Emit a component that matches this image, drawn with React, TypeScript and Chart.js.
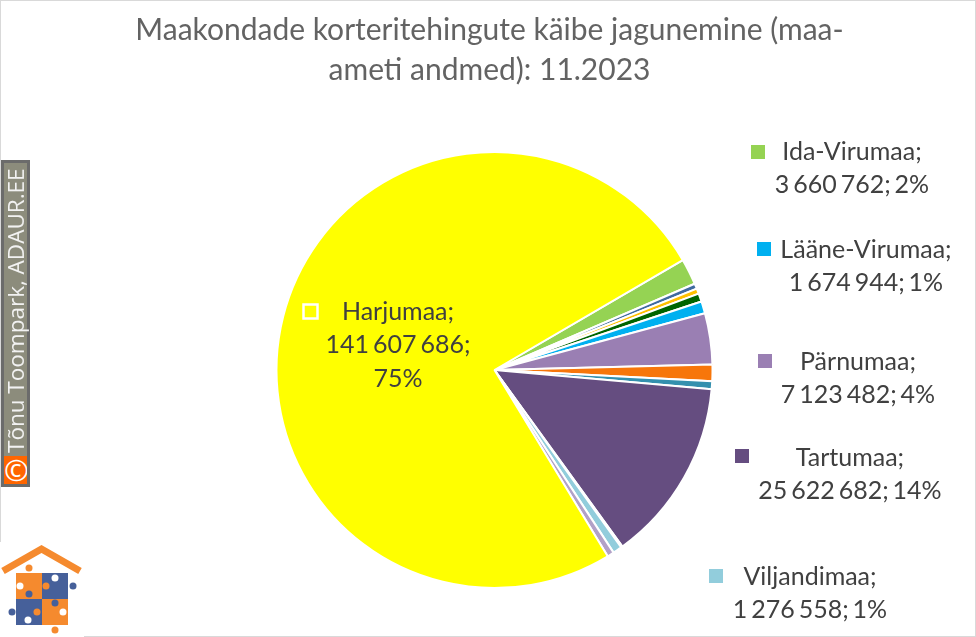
import React, { useEffect, useRef } from 'react';
import { Chart, registerables } from 'chart.js';

Chart.register(...registerables);

const titleLines = ['Maakondade korteritehingute käibe jagunemine (maa-', 'ameti andmed): 11.2023'];

// clockwise from Ida-Virumaa; the unnamed ones have no label in the picture
const counties = ['Ida-Virumaa', 'Hiiumaa', 'Jõgevamaa', 'Järvamaa', 'Lääne-Virumaa', 'Pärnumaa', 'Raplamaa', 'Saaremaa', 'Tartumaa', 'Valgamaa', 'Viljandimaa', 'Võrumaa', 'Harjumaa'];
const turnover = [3660762, 730000, 730000, 1150000, 1674944, 7123482, 2300000, 1100000, 25622682, 200000, 1276558, 950000, 141607686];
const sliceColors = ['#95D353', '#3F6AA0', '#FFC000', '#006400', '#00B0F0', '#9A7FB3', '#F7760A', '#3490AE', '#654D80', '#F8CBAD', '#92CDDC', '#B2A1C7', '#FFFF00'];

const FONT = 'Lato, sans-serif';

// where the data labels sit: [county index, swatch x, swatch y, text centre x, first line y]
const labelSpots = [
  [0, 758, 152, 852, 152],
  [4, 764, 249, 866, 250],
  [5, 765, 361, 858, 362],
  [8, 742, 456, 850, 458],
  [10, 716, 576, 810, 577],
  [12, 310.5, 311.5, 398, 312],
];

const formatValue = (v: number) => String(v).replace(/\B(?=(\d{3})+$)/g, ' ');

const sliceLabels = {
  id: 'sliceLabels',
  afterLayout(chart: any) {
    // title sits a bit left of the pie centre
    chart.titleBlock.right -= 10;
  },
  afterDraw(chart: any) {
    const { ctx } = chart;
    const total = turnover.reduce((a, b) => a + b, 0);
    ctx.save();
    ctx.font = `25px ${FONT}`;
    ctx.wordSpacing = '-2.5px';
    ctx.textAlign = 'center';
    ctx.textBaseline = 'middle';
    labelSpots.forEach(([i, sx, sy, tx, ty]) => {
      const pct = `${Math.round((turnover[i] / total) * 100)}%`;
      const num = formatValue(turnover[i]);
      // Harjumaa is the only one broken over three lines
      const lines = i === 12 ? [`${counties[i]};`, `${num};`, pct] : [`${counties[i]};`, `${num}; ${pct}`];
      if (i === 12) {
        ctx.strokeStyle = '#FFFFFF';
        ctx.lineWidth = 2.5;
        ctx.strokeRect(sx - 7, sy - 7, 14, 14);
      } else {
        ctx.fillStyle = sliceColors[i];
        ctx.fillRect(sx - 7, sy - 7, 14, 14);
      }
      ctx.fillStyle = '#404040';
      lines.forEach((line, n) => ctx.fillText(line, tx, ty + n * 33.3));
    });
    ctx.restore();
  },
};

const Logo = () => (
  <svg width={84} height={95} viewBox="0 12 84 95" style={{ position: 'absolute', left: -1, top: 541 }}>
    <rect x={0} y={12} width={84} height={95} fill="#FFFFFF" />
    <polyline points="3,41 41.5,19 80,41" fill="none" stroke="#F58A2E" strokeWidth={7} />
    <rect x={16} y={43} width={26} height={26} fill="#F58A2E" />
    <rect x={42} y={43} width={26} height={26} fill="#46609A" />
    <rect x={16} y={69} width={26} height={26} fill="#46609A" />
    <rect x={42} y={69} width={26} height={26} fill="#F58A2E" />
    <circle cx={29} cy={38} r={3.5} fill="#F58A2E" />
    <circle cx={73} cy={56} r={3.5} fill="#46609A" />
    <circle cx={12} cy={82} r={3.5} fill="#46609A" />
    <circle cx={55} cy={100} r={3.5} fill="#F58A2E" />
    <circle cx={29} cy={64} r={3.5} fill="#46609A" />
    <circle cx={55} cy={73} r={3.5} fill="#46609A" />
    <circle cx={46} cy={56} r={3.5} fill="#F58A2E" />
    <circle cx={37} cy={82} r={3.5} fill="#F58A2E" />
    <circle cx={55} cy={48} r={3.5} fill="#FFFFFF" />
    <circle cx={20} cy={56} r={3.5} fill="#FFFFFF" />
    <circle cx={63} cy={82} r={3.5} fill="#FFFFFF" />
    <circle cx={28} cy={90} r={3.5} fill="#FFFFFF" />
  </svg>
);

const Badge = () => (
  <div style={{ position: 'absolute', left: 0, top: 159, width: 29, height: 327, boxSizing: 'border-box', border: '3px solid #6B6B6B', background: '#8C8C7C' }}>
    <div
      style={{
        position: 'absolute', left: 0, bottom: 0, width: 23, height: 28,
        background: '#FF6600', color: '#FFFFFF', fontFamily: 'Open Sans, sans-serif', fontSize: 30,
        lineHeight: '28px', textAlign: 'center', overflow: 'hidden',
      }}
    >
      ©
    </div>
    <div
      style={{
        position: 'absolute', left: 0, bottom: 31, width: 23, height: 292,
        writingMode: 'vertical-rl', transform: 'rotate(180deg)', color: '#F2F2F2',
        fontFamily: 'Open Sans, sans-serif', fontSize: 22.5, lineHeight: '23px', whiteSpace: 'nowrap',
      }}
    >
      Tõnu Toompark, ADAUR.EE
    </div>
  </div>
);

const App: React.FC = () => {
  const canvasRef = useRef<HTMLCanvasElement | null>(null);

  useEffect(() => {
    if (!canvasRef.current) return;
    const chart = new Chart(canvasRef.current, {
      type: 'pie',
      data: {
        labels: counties,
        datasets: [
          {
            data: turnover,
            backgroundColor: sliceColors,
            borderColor: '#FFFFFF',
            borderWidth: 2,
          },
        ],
      },
      options: {
        animation: false,
        responsive: false,
        rotation: 59.7,
        layout: { padding: { left: 13, right: 0, top: 11, bottom: 48 } },
        plugins: {
          legend: { display: false },
          tooltip: { enabled: false },
          title: {
            display: true,
            text: titleLines,
            color: '#636363',
            font: { family: FONT, size: 30, weight: 'normal', lineHeight: 1.32 },
            padding: { top: 0, bottom: 60.8 },
          },
        },
      },
      plugins: [sliceLabels],
    });
    return () => chart.destroy();
  }, []);

  return (
    <div style={{ position: 'absolute', left: 0, top: 0, width: 976, height: 637, boxSizing: 'border-box', border: '1px solid #D9D9D9', background: '#FFFFFF' }}>
      <canvas ref={canvasRef} width={976} height={637} style={{ position: 'absolute', left: -1, top: -1 }} />
      <Badge />
      <Logo />
    </div>
  );
};

export default App;
